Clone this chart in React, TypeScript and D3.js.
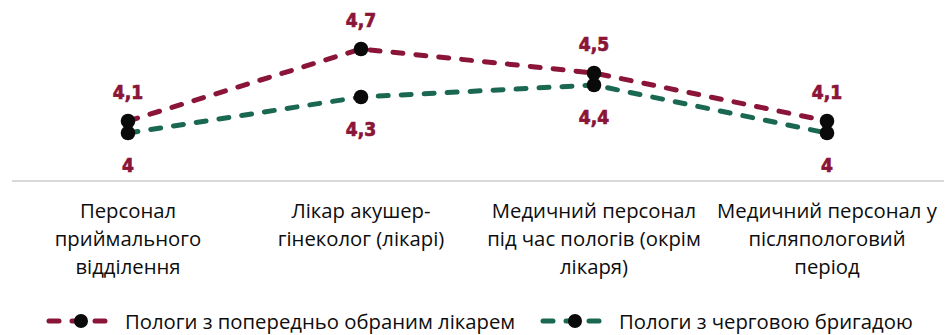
import React from "react";
import * as d3 from "d3";

// Categories (each label pre-split into lines)
const categories = [
  "Персонал приймального відділення",
  "Лікар акушер-гінеколог (лікарі)",
  "Медичний персонал під час пологів (окрім лікаря)",
  "Медичний персонал у післяпологовий період",
];
const categoryLines = [
  ["Персонал", "приймального", "відділення"],
  ["Лікар акушер-", "гінеколог (лікарі)"],
  ["Медичний персонал", "під час пологів (окрім", "лікаря)"],
  ["Медичний персонал у", "післяпологовий", "період"],
];

const seriesNames = ["Пологи з попередньо обраним лікарем", "Пологи з черговою бригадою"];
const chosenDoctor = [4.1, 4.7, 4.5, 4.1];
const dutyTeam = [4.0, 4.3, 4.4, 4.0];

const W = 950;
const H = 335;
const MAROON = "#8b1538";
const GREEN = "#1b6852";
const DASH = "10,13";

const x = d3.scaleBand<string>().domain(categories).range([11.5, 943.5]);
const cx = (c: string) => (x(c) as number) + x.bandwidth() / 2;
const y = d3.scaleLinear().domain([3.6, 5.0]).range([181, 13]);

const fmt = (v: number) => d3.format(".1~f")(v).replace(".", ",");

const labelFont = "'DejaVu Sans Condensed', 'DejaVu Sans', sans-serif";
const textFont = "'Open Sans', 'Noto Sans', sans-serif";
const TEXT_SIZE = 20.3;

export default function App() {
  const line = d3
    .line<number>()
    .x((_, i) => cx(categories[i]))
    .y((v) => y(v));

  const series = [
    { name: seriesNames[1], values: dutyTeam, color: GREEN, above: false },
    { name: seriesNames[0], values: chosenDoctor, color: MAROON, above: true },
  ];

  const legend = [
    { name: seriesNames[0], color: MAROON, x0: 49, text: 125 },
    { name: seriesNames[1], color: GREEN, x0: 543, text: 619 },
  ];

  return (
    <svg
      width={W}
      height={H}
      style={{ position: "absolute", left: 0, top: 0, background: "#fff" }}
    >
      {/* category axis */}
      <line x1={12} x2={944} y1={y(3.6)} y2={y(3.6)} stroke="#d9d9d9" strokeWidth={2} />

      {series.map((s) => (
        <path
          key={s.name}
          d={line(s.values) as string}
          fill="none"
          stroke={s.color}
          strokeWidth={5}
          strokeDasharray={DASH}
          strokeLinecap="round"
        />
      ))}

      {series.map((s) =>
        s.values.map((v, i) => (
          <circle key={s.name + i} cx={cx(categories[i])} cy={y(v)} r={7.3} fill="#0a0a0a" />
        ))
      )}

      {/* value labels: first series above, second below */}
      {series.map((s) =>
        s.values.map((v, i) => (
          <text
            key={"l" + s.name + i}
            x={cx(categories[i])}
            y={s.above ? y(v) - 22 : y(v) + 39}
            textAnchor="middle"
            fontFamily={labelFont}
            fontWeight="bold"
            fontSize={19}
            fill={MAROON}
            stroke={MAROON}
            strokeWidth={0.7}
          >
            {fmt(v)}
          </text>
        ))
      )}

      {/* category labels */}
      {categories.map((c, i) => (
        <text
          key={c}
          x={cx(c)}
          y={218}
          textAnchor="middle"
          fontFamily={textFont}
          fontSize={TEXT_SIZE}
          fill="#0d0d0d"
        >
          {categoryLines[i].map((ln, k) => (
            <tspan key={k} x={cx(c)} y={218 + k * 28}>
              {ln}
            </tspan>
          ))}
        </text>
      ))}

      {/* legend */}
      {legend.map((l) => (
        <g key={l.name}>
          <line
            x1={l.x0}
            x2={l.x0 + 61}
            y1={321}
            y2={321}
            stroke={l.color}
            strokeWidth={5}
            strokeDasharray={DASH}
            strokeLinecap="round"
          />
          <circle cx={l.x0 + 32} cy={321} r={7} fill="#0a0a0a" />
          <text x={l.text} y={329} fontFamily={textFont} fontSize={TEXT_SIZE} fill="#0d0d0d">
            {l.name}
          </text>
        </g>
      ))}
    </svg>
  );
}
